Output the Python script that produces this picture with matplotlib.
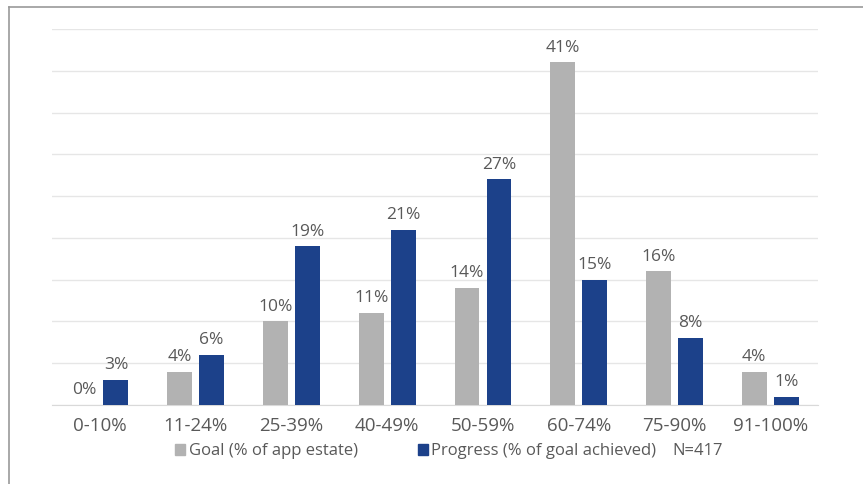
import numpy as np
import matplotlib.pyplot as plt
from matplotlib.patches import Patch
from matplotlib.lines import Line2D

# dados
categories = ['0-10%', '11-24%', '25-39%', '40-49%', '50-59%', '60-74%', '75-90%', '91-100%']
goal = [0, 4, 10, 11, 14, 41, 16, 4]
progress = [3, 6, 19, 21, 27, 15, 8, 1]
series_names = ['Goal (% of app estate)', 'Progress (% of goal achieved)']
note = 'N=417'

grey = '#B2B2B2'
blue = '#1C418A'
txt = '#595959'

plt.rcParams['font.family'] = ['Open Sans', 'DejaVu Sans']

fig = plt.figure(figsize=(8.63, 4.84), dpi=100)
ax = fig.add_axes([0.0603, 0.1632, 0.8877, 0.7768])

x = np.arange(len(categories))
w = 0.26
off = 0.167
b1 = ax.bar(x - off, goal, w, color=grey, zorder=3)
b2 = ax.bar(x + off, progress, w, color=blue, zorder=3)

for bars in (b1, b2):
    for r in bars:
        ax.text(r.get_x() + r.get_width() / 2, r.get_height() + 0.8,
                f'{int(r.get_height())}%', ha='center', va='bottom',
                fontsize=12.5, color=txt)

ax.set_xlim(-0.5, len(categories) - 0.5)
ax.set_ylim(0, 45)
ax.set_yticks(np.arange(0, 46, 5))
ax.yaxis.grid(True, color='#E6E6E6', linewidth=1)
ax.tick_params(left=False, labelleft=False, bottom=False)
ax.set_xticks(x)
ax.set_xticklabels(categories, fontsize=13.5, color=txt)
ax.tick_params(axis='x', pad=5)
for s in ['top', 'right', 'left']:
    ax.spines[s].set_visible(False)
ax.spines['bottom'].set_color('#D9D9D9')

handles = [Patch(color=grey), Patch(color=blue)]
fig.legend(handles, series_names, loc='center left', bbox_to_anchor=(0.203, 0.068),
           ncol=2, frameon=False, fontsize=12, labelcolor=txt, borderpad=0, borderaxespad=0,
           handlelength=0.6, handleheight=0.6, handletextpad=0.2, columnspacing=3.6)
fig.text(0.779, 0.068, note, ha='left', va='center', fontsize=12, color=txt)

# moldura
fig.add_artist(Line2D([0.0104, 0.0104], [0, 0.9855], color='#9A9A9A', lw=1.2))
fig.add_artist(Line2D([0.0104, 1], [0.9855, 0.9855], color='#9A9A9A', lw=1.2))

fig.savefig('out.png', dpi=100)
